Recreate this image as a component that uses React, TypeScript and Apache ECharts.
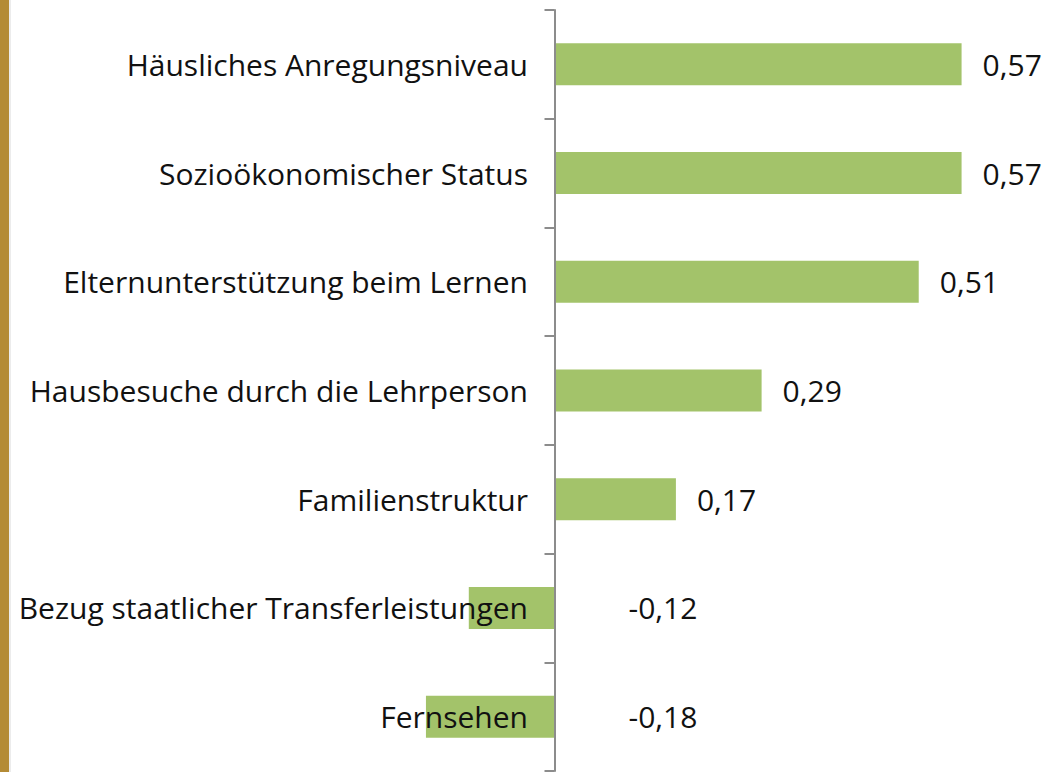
import React, { useEffect, useRef } from "react";
import * as echarts from "echarts";

const categories = [
  "Häusliches Anregungsniveau",
  "Sozioökonomischer Status",
  "Elternunterstützung beim Lernen",
  "Hausbesuche durch die Lehrperson",
  "Familienstruktur",
  "Bezug staatlicher Transferleistungen",
  "Fernsehen",
];
const values = [0.57, 0.57, 0.51, 0.29, 0.17, -0.12, -0.18];

const FONT = "Open Sans";

export default function App() {
  const ref = useRef<HTMLDivElement>(null);
  useEffect(() => {
    if (!ref.current) return;
    const chart = echarts.init(ref.current, null, { renderer: "svg" });
    chart.setOption({
      animation: false,
      backgroundColor: "#ffffff",
      graphic: [
        { type: "rect", z: 100, shape: { x: 0, y: 0, width: 9, height: 772 }, style: { fill: "#b48b35" } },
        { type: "rect", z: 100, shape: { x: 9, y: 0, width: 2, height: 772 }, style: { fill: "#ececec" } },
      ],
      grid: { left: 126, width: 857, top: 10, height: 761, containLabel: false, outerBoundsMode: "none" },
      xAxis: {
        type: "value",
        min: -0.6,
        max: 0.6,
        show: false,
      },
      yAxis: {
        type: "category",
        inverse: true,
        z: 5,
        data: categories,
        axisLine: { show: true, onZero: true, lineStyle: { color: "#8c8c8c", width: 2 } },
        axisTick: { show: true, length: 10, lineStyle: { color: "#8c8c8c", width: 2 } },
        axisLabel: { margin: -402, color: "#111", fontSize: 30, fontFamily: FONT },
        splitLine: { show: false },
      },
      series: [
        {
          type: "bar",
          barWidth: 42,
          itemStyle: { color: "#a3c36a" },
          z: 1,
          data: values.map((v) => ({
            value: v,
            label: {
              show: true,
              position: "right",
              distance: v >= 0 ? 21 : 74,
              formatter: (p: any) => String(p.value).replace(".", ","),
              color: "#111",
              fontSize: 30,
              fontFamily: FONT,
            },
          })),
        },
      ],
    });
    return () => chart.dispose();
  }, []);
  return (
    <div
      ref={ref}
      style={{ position: "fixed", left: 0, top: 0, width: 1050, height: 772 }}
    />
  );
}
